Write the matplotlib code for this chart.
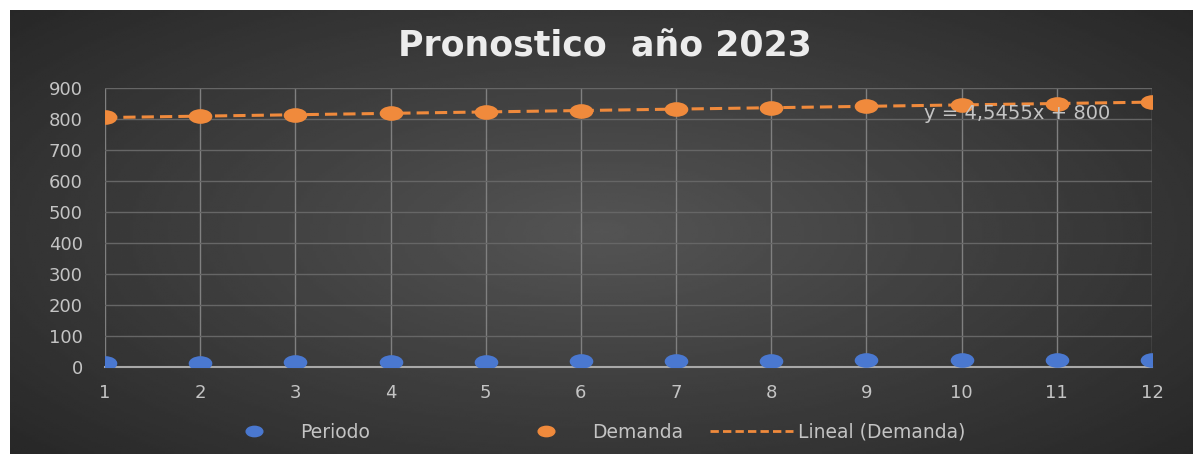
import numpy as np
from matplotlib import pyplot as plt
from matplotlib.lines import Line2D
from matplotlib.path import Path
from matplotlib.transforms import Affine2D

# data
periodos = [1, 2, 3, 4, 5, 6, 7, 8, 9, 10, 11, 12]
periodo_vals = [13, 14, 15, 16, 17, 18, 19, 20, 21, 22, 23, 24]
demanda = [805, 809, 814, 818, 823, 827, 832, 836, 841, 845, 850, 855]
y_ticks = [0, 100, 200, 300, 400, 500, 600, 700, 800, 900]

title = "Pronostico  año 2023"
eq_text = "y = 4,5455x + 800"

blue = "#4A78D0"
orange = "#F08A3C"
txt = "#c4c4c4"

# flattened circle, the markers in the picture are wider than tall
ellipse = Path.unit_circle().transformed(Affine2D().scale(1, 0.62))

fig = plt.figure(figsize=(11.93, 4.54), dpi=100)
fig.patch.set_facecolor("white")

# dark background with a soft radial gradient
bg = fig.add_axes([10/1193, 0, 1183/1193, 444/454])
yy, xx = np.mgrid[-1:1:200j, -1:1:400j]
r = np.sqrt(xx**2 + (yy * 0.9)**2)
bg.imshow(0.33 - 0.13 * r, cmap="gray", vmin=0, vmax=1, aspect="auto", extent=[0, 1, 0, 1])
bg.set_axis_off()

ax = fig.add_axes([105/1193, 1 - 367/454, 1047/1193, 279/454])
ax.set_facecolor("none")

# trend line from a least-squares fit of the demand
coef = np.polyfit(periodos, demanda, 1)
xs = np.array([periodos[0], periodos[-1]])
ax.plot(xs, np.polyval(coef, xs), "--", color=orange, lw=2.2, dashes=(4, 2), zorder=2)

ax.plot(periodos, periodo_vals, ls="", marker=ellipse, color=blue, ms=17, mew=0, zorder=3)
ax.plot(periodos, demanda, ls="", marker=ellipse, color=orange, ms=17, mew=0, zorder=3)

ax.set_xlim(1, 12)
ax.set_ylim(0, 900)
ax.set_xticks(periodos)
ax.set_yticks(y_ticks)
ax.grid(True, axis="y", color="#666666", lw=1)
ax.grid(True, axis="x", color="#808080", lw=1)
ax.set_axisbelow(True)
for s in ["top", "right", "left"]:
    ax.spines[s].set_visible(False)
ax.spines["bottom"].set_color("#a8a8a8")
ax.spines["bottom"].set_linewidth(1.5)
ax.tick_params(length=0, colors=txt, labelsize=13)
ax.tick_params(axis="x", pad=12)
ax.tick_params(axis="y", pad=16)

ax.text(10.58, 818, eq_text, color=txt, fontsize=14, ha="center", va="center")

fig.text(0.507, 0.897, title, color="#ececec", fontsize=25, fontweight="bold",
         ha="center", va="center")

entries = [
    (Line2D([], [], ls="", marker=ellipse, color=blue, ms=12), "Periodo", 235, 2, 1.5),
    (Line2D([], [], ls="", marker=ellipse, color=orange, ms=12), "Demanda", 527, 2, 1.5),
    (Line2D([], [], ls="--", color=orange, lw=2, dashes=(3, 1.5)), "Lineal (Demanda)", 710, 4.4, 0.3),
]
for h, lab, x0, hl, tp in entries:
    leg = fig.legend([h], [lab], loc="center left", bbox_to_anchor=(x0/1193, 1 - 432/454),
                     frameon=False, fontsize=13.5, borderpad=0, borderaxespad=0,
                     handlelength=hl, handletextpad=tp)
    for t in leg.get_texts():
        t.set_color(txt)

plt.savefig("out.png", dpi=100)
